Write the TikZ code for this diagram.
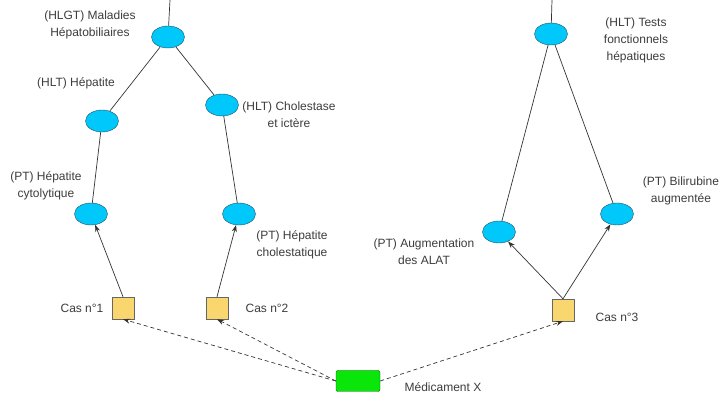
\documentclass[tikz,border=0pt]{standalone}
\usepackage{fontspec}
\setmainfont{Liberation Sans}
\usepackage{tikz}
\usetikzlibrary{arrows.meta}
\usetikzlibrary{shapes.geometric}
\usetikzlibrary{positioning}

\definecolor{termcyan}{RGB}{0,200,250}
\definecolor{termedge}{RGB}{30,80,110}
\definecolor{casyellow}{RGB}{250,214,110}
\definecolor{medgreen}{RGB}{10,230,10}
\definecolor{labelgray}{RGB}{60,60,60}

\begin{document}
\begin{tikzpicture}[x=1pt,y=-1pt,
    term/.style={ellipse, draw=termedge, fill=termcyan, minimum width=33pt, minimum height=22pt, inner sep=0pt},
    casbox/.style={rectangle, draw=black!60, fill=casyellow, minimum size=22pt, inner sep=0pt},
    medbox/.style={rectangle, rounded corners=2pt, draw=black!60!green, fill=medgreen, minimum width=44pt, minimum height=21pt, inner sep=0pt},
    lbl/.style={align=center, text=labelgray, font=\fontsize{12}{17}\selectfont},
    link/.style={draw=black!80, line width=0.7pt},
    hit/.style={link, -{Stealth[length=7pt,width=5pt]}},
    drug/.style={link, dash pattern=on 4pt off 3pt, -{Stealth[length=7pt,width=5pt]}}]
  \useasboundingbox (0,0) rectangle (724,398);

  % hierarchy nodes
  \coordinate (topl) at (170,0);
  \coordinate (topr) at (552,0);
  \node[term] (hlgt) at (168,37) {};
  \node[term] (hepatite) at (102,121) {};
  \node[term] (cholestase) at (222,105) {};
  \node[term] (cyto) at (91,214) {};
  \node[term] (cholest) at (239,214) {};
  \node[term] (tests) at (551,34) {};
  \node[term] (alat) at (499,232) {};
  \node[term] (bili) at (617,214) {};

  % cases and drug
  \node[casbox] (cas1) at (123,308) {};
  \node[casbox] (cas2) at (217,308) {};
  \node[casbox] (cas3) at (563,310) {};
  \node[medbox] (med) at (358,381) {};

  % label nodes
  \node[lbl] (lhlgt) at (90,25) {(HLGT) Maladies\\Hépatobiliaires};
  \node[lbl] (lhep) at (76,83) {(HLT) Hépatite};
  \node[lbl] (lchol) at (289,115) {(HLT) Cholestase\\et ictère};
  \node[lbl] (lcyto) at (46,186) {(PT) Hépatite\\cytolytique};
  \node[lbl] (lcholest) at (292,245) {(PT) Hépatite\\cholestatique};
  \node[lbl] (ltests) at (636,40) {(HLT) Tests\\fonctionnels\\hépatiques};
  \node[lbl] (lalat) at (424,252) {(PT) Augmentation\\des ALAT};
  \node[lbl] (lbili) at (681,191) {(PT) Bilirubine\\augmentée};
  \node[lbl] (lcas1) at (82,308) {Cas n°1};
  \node[lbl] (lcas2) at (267,308) {Cas n°2};
  \node[lbl] (lcas3) at (617,317) {Cas n°3};
  \node[lbl] (lmed) at (443,387) {Médicament X};

  % tree links
  \draw[link] (topl) -- (hlgt);
  \draw[link] (hlgt) -- (hepatite);
  \draw[link] (hlgt) -- (cholestase);
  \draw[link] (hepatite) -- (cyto);
  \draw[link] (cholestase) -- (cholest);
  \draw[link] (topr) -- (tests);
  \draw[link] (tests) -- (alat);
  \draw[link] (tests) -- (bili);

  % cases to terms
  \draw[hit] (cas1.north) -- (cyto);
  \draw[hit] (cas2.north) -- (cholest);
  \draw[hit] (cas3.north) -- (alat);
  \draw[hit] (cas3.north) -- (bili);

  % drug to cases
  \draw[drug] (med.west) -- (cas1.south);
  \draw[drug] (med.west) -- (cas2.south);
  \draw[drug] (med.east) -- (cas3.south);
\end{tikzpicture}
\end{document}
